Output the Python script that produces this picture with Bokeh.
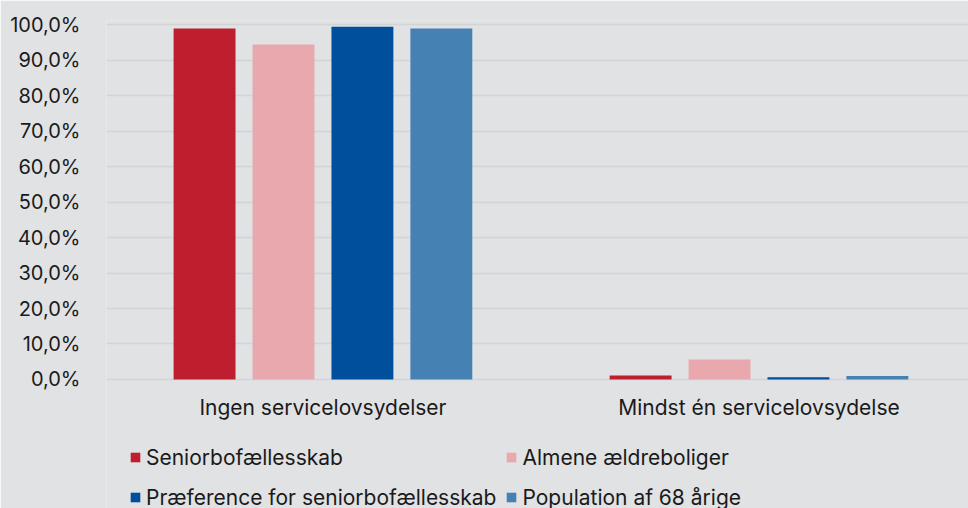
from bokeh.plotting import figure
from bokeh.models import Range1d, FixedTicker, Legend, LegendItem, ColumnDataSource
from bokeh.core.properties import value
from bokeh.embed import file_html
from bokeh.resources import INLINE

categories = ["Ingen servicelovsydelser", "Mindst én servicelovsydelse"]
series_names = ["Seniorbofællesskab", "Almene ældreboliger",
                "Præference for seniorbofællesskab", "Population af 68 årige"]
seniorbo = [98.9, 1.1]
almene = [94.4, 5.6]
praeference = [99.4, 0.6]
population = [98.9, 1.0]
y_ticks = [0, 10, 20, 30, 40, 50, 60, 70, 80, 90, 100]
y_tick_labels = ["0,0%", "10,0%", "20,0%", "30,0%", "40,0%", "50,0%",
                 "60,0%", "70,0%", "80,0%", "90,0%", "100,0%"]

colors = ["#BE1E2D", "#E8A8AE", "#004F9C", "#4681B4"]
series = [seniorbo, almene, praeference, population]

BG = "#E1E2E4"
FONT = "Inter"
FS = "21px"

# frame extends to the bottom of the page so the legend can sit inside it
p = figure(frame_width=862, frame_height=488, output_backend="svg", toolbar_location=None,
           x_range=Range1d(-0.4964, 1.4805), y_range=Range1d(-36.34, 101.13),
           background_fill_color=BG, border_fill_color=BG,
           min_border_left=106, min_border_right=0, min_border_top=20,
           min_border_bottom=0,
           outline_line_color=None)

x_idx = list(range(len(categories)))
step = 0.181
bw = 0.142
renderers = []
for i, (vals, c) in enumerate(zip(series, colors)):
    off = (i - 1.5) * step
    r = p.vbar(x=[x + off for x in x_idx], top=vals, width=bw, bottom=0,
               fill_color=c, line_color=None)
    renderers.append(r)

p.xgrid.grid_line_color = None
p.ygrid.grid_line_color = "#D3D4D6"
p.ygrid.grid_line_width = 1.5
p.ygrid.ticker = FixedTicker(ticks=y_ticks)
p.ygrid.level = "underlay"

p.yaxis.ticker = FixedTicker(ticks=y_ticks)
p.yaxis.major_label_overrides = {t: l for t, l in zip(y_ticks, y_tick_labels)}
p.yaxis.axis_line_color = None
p.yaxis.major_tick_line_color = None
p.yaxis.minor_tick_line_color = None
p.yaxis.major_label_standoff = 20
p.yaxis.major_label_text_font = FONT
p.yaxis.major_label_text_font_size = "20px"
p.yaxis.major_label_text_color = "#1a1a1a"

p.xaxis.visible = False

# category labels under the zero line
cat_src = ColumnDataSource(dict(x=x_idx, y=[0] * len(x_idx), text=categories))
p.text(x="x", y="y", text="text", source=cat_src, y_offset=28,
       text_align="center", text_baseline="middle",
       text_font=value(FONT), text_font_size=FS, text_color="#1a1a1a")

order = [0, 2, 1, 3]  # column-major fill: col1 = items 0,2 ; col2 = items 1,3
legend = Legend(items=[LegendItem(label=series_names[k], renderers=[renderers[k]]) for k in order],
                ncols=2, location=(23, -4.5))
legend.background_fill_alpha = 0
legend.border_line_color = None
legend.label_text_font = FONT
legend.label_text_font_size = FS
legend.label_text_color = "#1a1a1a"
legend.glyph_width = 12
legend.glyph_height = 12
legend.label_height = 31
legend.label_standoff = 5
legend.spacing = 9
legend.padding = 0
legend.margin = 0
p.add_layout(legend, "center")

open("out.html", "w").write(file_html(p, INLINE))
